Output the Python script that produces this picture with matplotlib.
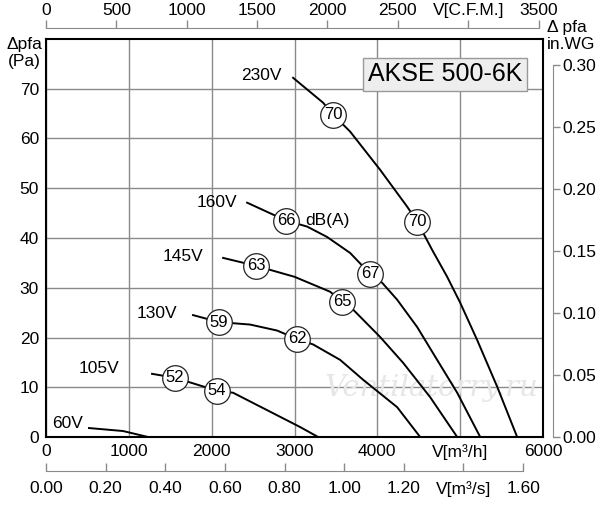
import matplotlib
matplotlib.use("Agg")
import matplotlib.pyplot as plt

plt.rcParams['font.family'] = ['Liberation Sans', 'DejaVu Sans']

# fan curves: V [m3/h], pfa [Pa]
v60 = [519, 930, 1232]
p60 = [1.8, 1.2, 0]
v105 = [1280, 1558, 2065, 2258, 2669, 3068, 3285]
p105 = [12.7, 11.9, 9.3, 8.9, 5.4, 2.0, 0]
v130 = [1775, 2089, 2464, 2790, 3031, 3225, 3551, 3829, 4239, 4517]
p130 = [24.5, 23.1, 22.6, 21.4, 19.7, 18.6, 15.5, 11.5, 6.0, 0]
v145 = [2138, 2536, 3000, 3430, 3575, 3708, 4034, 4312, 4638, 4964]
p145 = [36.0, 34.4, 32.2, 29.2, 27.2, 25.6, 20.1, 14.9, 8.0, 0]
v160 = [2428, 2899, 3152, 3394, 3671, 3913, 4058, 4239, 4481, 4722, 4964, 5242]
p160 = [47.1, 43.5, 42.3, 40.2, 37.0, 32.8, 31.0, 27.6, 22.1, 15.5, 8.9, 0]
v230 = [2983, 3345, 3466, 3671, 4034, 4360, 4481, 4662, 4843, 5000, 5205, 5447, 5688]
p230 = [72.2, 67.2, 64.8, 61.4, 53.7, 46.3, 43.3, 37.6, 32.2, 27.0, 19.5, 10.1, 0]

curves = [(v60, p60), (v105, p105), (v130, p130), (v145, p145), (v160, p160), (v230, p230)]

# voltage labels (right end of text)
volt_labels = ['60V', '105V', '130V', '145V', '160V', '230V']
volt_x = [447, 882, 1582, 1896, 2307, 2850]
volt_y = [2.8, 13.7, 24.9, 36.2, 47.1, 72.6]

# sound level markers dB(A)
db_vals = ['52', '54', '59', '62', '63', '65', '66', '67', '70', '70']
db_x = [1558, 2065, 2089, 3031, 2536, 3575, 2899, 3913, 3466, 4481]
db_y = [11.9, 9.3, 23.1, 19.7, 34.4, 27.2, 43.5, 32.8, 64.8, 43.3]

# axis ticks
m3h_ticks = [0, 1000, 2000, 3000, 4000, 5000, 6000]
m3h_labels = ['0', '1000', '2000', '3000', '4000', 'V[m³/h]', '6000']
pa_ticks = [0, 10, 20, 30, 40, 50, 60, 70]
cfm_ticks = [0, 500, 1000, 1500, 2000, 2500, 3000, 3500]
cfm_labels = ['0', '500', '1000', '1500', '2000', '2500', 'V[C.F.M.]', '3500']
m3s_ticks = [0.0, 0.2, 0.4, 0.6, 0.8, 1.0, 1.2, 1.4, 1.6]
m3s_labels = ['0.00', '0.20', '0.40', '0.60', '0.80', '1.00', '1.20', 'V[m³/s]', '1.60']
inwg_ticks = [0.0, 0.05, 0.10, 0.15, 0.20, 0.25, 0.30]
inwg_labels = ['0.00', '0.05', '0.10', '0.15', '0.20', '0.25', '0.30']

CFM = 0.588578   # cfm per m3/h
INWG = 249.089   # Pa per inch WG

W, H = 600, 505
FS = 12.5
fig = plt.figure(figsize=(6.0, 5.05), dpi=100)
ax = fig.add_axes([46 / W, (505 - 437) / H, (543 - 46) / W, (437 - 39) / H])
ax.set_xlim(0, 6000)
ax.set_ylim(0, 80)

gray = '#8a8a8a'
ax.set_xticks(m3h_ticks)
ax.set_xticklabels(m3h_labels)
ax.set_yticks(pa_ticks)
ax.grid(True, color=gray, lw=1)
ax.set_axisbelow(True)
ax.tick_params(axis='x', length=0, labelsize=FS, pad=5)
ax.tick_params(axis='y', length=0, labelsize=FS, pad=5)
for s in ax.spines.values():
    s.set_linewidth(1.5)
    s.set_color('black')

for v, p in curves:
    ax.plot(v, p, color='black', lw=1.4, zorder=3)

for t, x, y in zip(volt_labels, volt_x, volt_y):
    ax.text(x, y, t, ha='right', va='center', fontsize=FS, zorder=4)

ax.scatter(db_x, db_y, s=340, facecolor='white', edgecolor='#222222', lw=0.9, zorder=5)
for t, x, y in zip(db_vals, db_x, db_y):
    ax.text(x, y, t, ha='center', va='center', fontsize=12, zorder=6)
ax.text(3128, 43.5, 'dB(A)', ha='left', va='center', fontsize=FS, zorder=4)

ax.text(0.803, 0.912, 'AKSE 500-6K', transform=ax.transAxes, ha='center', va='center',
        fontsize=18, zorder=7,
        bbox=dict(boxstyle='square,pad=0.18', facecolor='#eeeeee', edgecolor='#999999', lw=1))

ax.text(0.56, 0.123, 'Ventilatorry.ru', transform=ax.transAxes, ha='left', va='center',
        fontsize=21, style='italic', family='DejaVu Serif', color='#e6e6e6', zorder=2)

# top axis: C.F.M.
top = ax.secondary_xaxis(1 + 11 / 398, functions=(lambda v: v * CFM, lambda c: c / CFM))
top.set_xticks(cfm_ticks)
top.set_xticklabels(cfm_labels)
top.tick_params(direction='out', length=6, width=1, color=gray, labelsize=FS, pad=1)
top.spines['top'].set_color(gray)
top.spines['top'].set_bounds(0, 3500)

# bottom axis: m3/s
bot = ax.secondary_xaxis(-(471 - 437) / 398, functions=(lambda v: v / 3600, lambda q: q * 3600))
bot.set_xticks(m3s_ticks)
bot.set_xticklabels(m3s_labels)
bot.tick_params(direction='in', length=6, width=1, color=gray, labelsize=FS, pad=7)
bot.spines['bottom'].set_color(gray)
bot.spines['bottom'].set_bounds(0, 1.6)

# right axis: in.WG
rgt = ax.secondary_yaxis(1 + 10 / 497, functions=(lambda p: p / INWG, lambda w: w * INWG))
rgt.set_yticks(inwg_ticks)
rgt.set_yticklabels(inwg_labels)
rgt.tick_params(direction='out', length=5, width=1, color=gray, labelsize=FS, pad=2)
rgt.spines['right'].set_color(gray)
rgt.spines['right'].set_bounds(0, 0.30)

fig.text(42 / W, 1 - 53 / H, 'Δpfa\n(Pa)', ha='right', va='center', ma='center',
         fontsize=FS, linespacing=1.1)
fig.text(547 / W, 1 - 36 / H, 'Δ pfa\nin.WG', ha='left', va='center', ma='left',
         fontsize=FS, linespacing=1.1)

fig.savefig('out.png', dpi=100)
